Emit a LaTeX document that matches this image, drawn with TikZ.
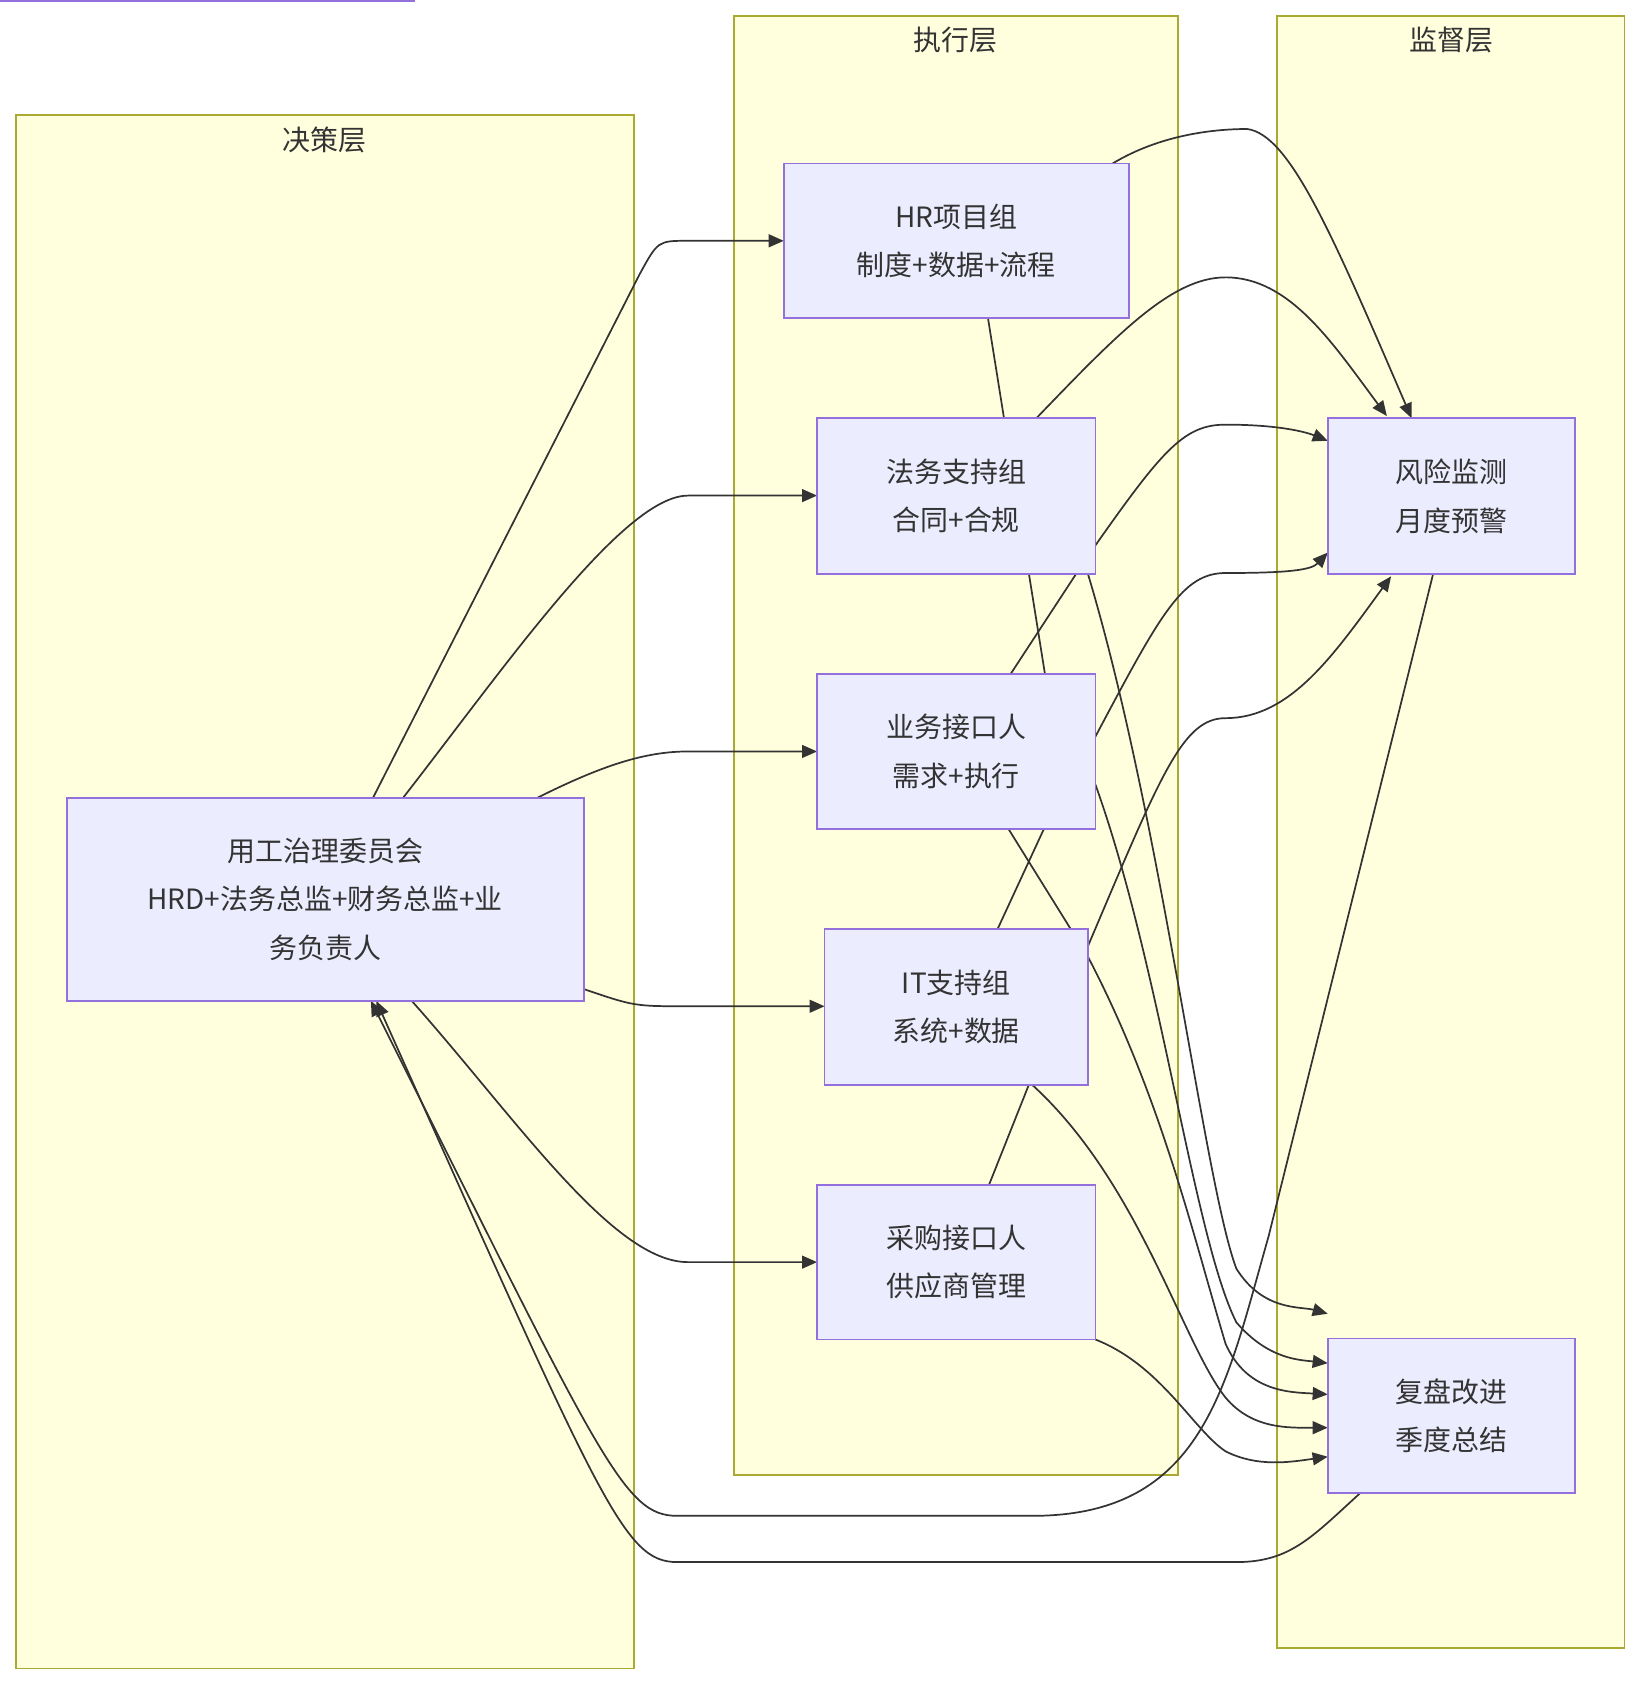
\documentclass[tikz,border=0pt]{standalone}
\usepackage{fontspec}
\setmainfont{Noto Sans CJK SC}
\usetikzlibrary{arrows.meta}
\definecolor{nfill}{HTML}{ECECFF}
\definecolor{nline}{HTML}{9370DB}
\definecolor{cfill}{HTML}{FFFFDE}
\definecolor{cline}{HTML}{AAAA33}
\definecolor{eline}{HTML}{333333}
\begin{document}
\begin{tikzpicture}[x=0.5pt,y=-0.5pt,
  clu/.style={draw=cline,fill=cfill,line width=0.8pt},
  box/.style={draw=nline,fill=nfill,line width=0.8pt,align=center,font=\fontsize{13pt}{22.5pt}\selectfont,text=eline,inner sep=0pt},
  lab/.style={font=\fontsize{13pt}{16pt}\selectfont,text=eline},
  e/.style={draw=eline,line width=0.8pt},
  a/.style={e,-{Triangle[length=7pt,width=6pt]}}]
\useasboundingbox (0,0) rectangle (1530,1572);
\fill[white] (0,0) rectangle (1530,1572);
\draw[clu] (15,107) rectangle (590,1552);
\draw[clu] (683,15) rectangle (1096,1372);
\draw[clu] (1188,15) rectangle (1511,1533);
\node[lab] (L1) at (302,130) {决策层};
\node[lab] (L2) at (889,37) {执行层};
\node[lab] (L3) at (1350,37) {监督层};
% edges
\coordinate (c1) at (347,742); \coordinate (hrL) at (729,224);
\coordinate (c2) at (375,742); \coordinate (lgL) at (760,461);
\coordinate (c3) at (500,742); \coordinate (bzL) at (760,699);
\coordinate (c4) at (543,920); \coordinate (itL) at (767,936);
\coordinate (c5) at (383,931); \coordinate (prL) at (760,1174);
\draw[a] (c1) -- (595,255) .. controls (612,224) .. (640,224) -- (hrL);
\draw[a] (c2) .. controls (470,620) and (580,461) .. (640,461) -- (lgL);
\draw[a] (c3) .. controls (560,712) and (600,699) .. (640,699) -- (bzL);
\draw[a] (c4) .. controls (590,936) .. (640,936) -- (itL);
\draw[a] (c5) .. controls (480,1040) and (570,1174) .. (640,1174) -- (prL);
% to risk
\coordinate (hrT) at (1035,152); \coordinate (rk1) at (1313,389);
\coordinate (lgT) at (964,389); \coordinate (rk2) at (1290,387);
\coordinate (bzT) at (940,627); \coordinate (rk3) at (1235,410);
\coordinate (itT) at (928,864); \coordinate (rk4) at (1235,514);
\coordinate (prT) at (920,1102); \coordinate (rk5) at (1294,536);
\draw[a] (hrT) .. controls (1080,125) and (1130,120) .. (1160,120) .. controls (1200,125) and (1240,220) .. (rk1);
\draw[a] (lgT) .. controls (1040,310) and (1090,258) .. (1140,258) .. controls (1200,258) and (1240,320) .. (rk2);
\draw[a] (bzT) -- (1010,520) .. controls (1080,420) and (1100,395) .. (1140,395) .. controls (1190,395) and (1215,402) .. (rk3);
\draw[a] (itT) -- (990,730) -- (1019,685) .. controls (1080,570) and (1100,533) .. (1140,533) .. controls (1200,533) and (1220,530) .. (rk4);
\draw[a] (prT) -- (957,1009) -- (1012,880) .. controls (1080,720) and (1100,668) .. (1140,668) .. controls (1200,668) and (1240,610) .. (rk5);
% to review
\coordinate (hrB) at (919,296); \coordinate (rv1) at (1235,1222);
\coordinate (lgB) at (1012,534); \coordinate (rv2) at (1235,1268);
\coordinate (bzB) at (938,771); \coordinate (rv3) at (1235,1297);
\coordinate (itB) at (960,1009); \coordinate (rv4) at (1235,1328);
\coordinate (prB) at (1019,1246); \coordinate (rv5) at (1235,1355);
\draw[a] (hrB) -- (972,627) -- (1019,730) .. controls (1080,900) and (1110,1150) .. (1150,1230) .. controls (1180,1265) and (1210,1265) .. (rv2);
\draw[a] (lgB) .. controls (1080,760) and (1120,1100) .. (1150,1180) .. controls (1175,1220) and (1210,1215) .. (rv1);
\draw[a] (bzB) -- (1012,890) .. controls (1080,1020) and (1110,1150) .. (1140,1250) .. controls (1160,1295) and (1200,1295) .. (rv3);
\draw[a] (itB) .. controls (1060,1100) and (1100,1250) .. (1140,1300) .. controls (1165,1330) and (1200,1328) .. (rv4);
\draw[a] (prB) .. controls (1080,1270) and (1110,1330) .. (1140,1350) .. controls (1170,1365) and (1200,1360) .. (rv5);
% back to C
\coordinate (rvB) at (1265,1389); \coordinate (cb1) at (350,931);
\coordinate (rkB) at (1333,534); \coordinate (cb2) at (345,931);
\draw[a] (rvB) .. controls (1220,1430) and (1200,1453) .. (1150,1453) -- (630,1453) .. controls (580,1453) and (560,1400) .. (cb1);
\draw[a] (rkB) -- (1180,1150) .. controls (1140,1290) and (1120,1410) .. (960,1410) -- (630,1410) .. controls (580,1410) and (560,1360) .. (cb2);
% nodes
\node[box,minimum width=481\pgflinewidth] at (0,0) {};
\node[box,minimum width=240.5pt,minimum height=94.5pt] (C) at (302.5,836.5) {用工治理委员会\\HRD+法务总监+财务总监+业\\务负责人};
\node[box,minimum width=160.5pt,minimum height=72pt] (HR) at (889.5,224) {HR项目组\\制度+数据+流程};
\node[box,minimum width=129.5pt,minimum height=72.5pt] (LG) at (889.5,461.5) {法务支持组\\合同+合规};
\node[box,minimum width=129.5pt,minimum height=72pt] (BZ) at (889.5,699) {业务接口人\\需求+执行};
\node[box,minimum width=122.5pt,minimum height=72.5pt] (IT) at (889.5,936.5) {IT支持组\\系统+数据};
\node[box,minimum width=129.5pt,minimum height=72pt] (PR) at (889.5,1174) {采购接口人\\供应商管理};
\node[box,minimum width=115pt,minimum height=72.5pt] (RK) at (1350,461.5) {风险监测\\月度预警};
\node[box,minimum width=115pt,minimum height=72pt] (RV) at (1350,1317) {复盘改进\\季度总结};
\end{tikzpicture}
\end{document}
